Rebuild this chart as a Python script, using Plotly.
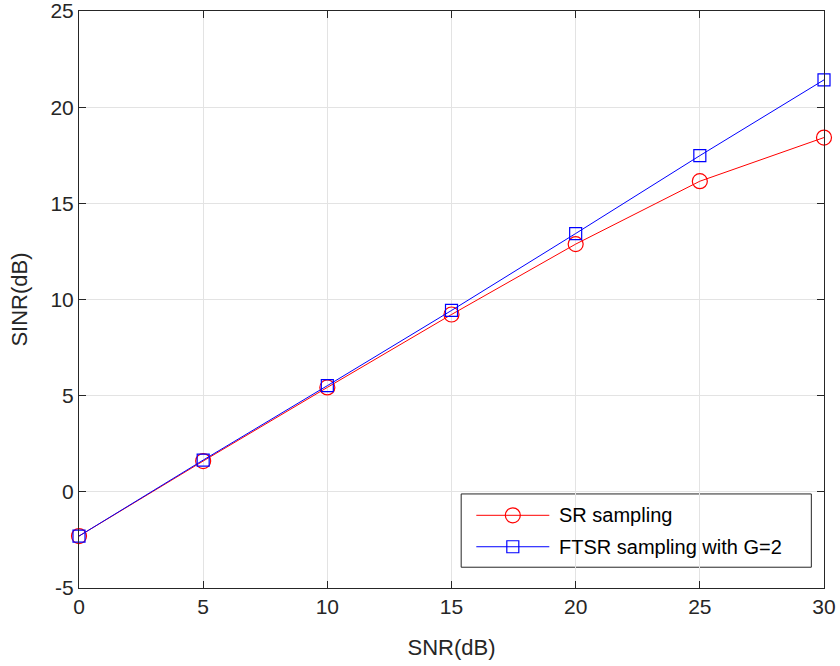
import plotly.graph_objects as go

snr_db = [0, 5, 10, 15, 20, 25, 30]
sr_sinr = [-2.3, 1.6, 5.43, 9.22, 12.88, 16.15, 18.42]
ftsr_sinr = [-2.3, 1.65, 5.52, 9.43, 13.43, 17.48, 21.42]

series_names = ["SR sampling", "FTSR sampling with G=2"]

x_ticks = [0, 5, 10, 15, 20, 25, 30]
x_tick_text = ["0", "5", "10", "15", "20", "25", "30"]
y_ticks = [-5, 0, 5, 10, 15, 20, 25]
y_tick_text = ["-5", "0", "5", "10", "15", "20", "25"]

FONT = "Liberation Sans, Arial, sans-serif"
RED = "#ff0000"
BLUE = "#0000ff"
CIRCLE = dict(symbol="circle-open", size=15, line=dict(width=1.2))
SQUARE = dict(symbol="square-open", size=12, line=dict(width=1.2))

fig = go.Figure()
fig.add_trace(go.Scatter(
    x=snr_db, y=sr_sinr, mode="lines+markers", name=series_names[0],
    line=dict(color=RED, width=1), marker=dict(color=RED, **CIRCLE),
    showlegend=False, cliponaxis=False,
))
fig.add_trace(go.Scatter(
    x=snr_db, y=ftsr_sinr, mode="lines+markers", name=series_names[1],
    line=dict(color=BLUE, width=1), marker=dict(color=BLUE, **SQUARE),
    showlegend=False, cliponaxis=False,
))

axis_common = dict(
    showgrid=True, gridcolor="#e3e3e3", gridwidth=1,
    showline=True, linecolor="#262626", linewidth=1, mirror="ticks",
    ticks="inside", ticklen=7, tickcolor="#262626",
    zeroline=False, automargin=False, ticklabeloverflow="allow",
    tickfont=dict(family=FONT, size=21, color="#262626"),
    title_font=dict(family=FONT, size=22, color="#262626"),
)

fig.update_xaxes(range=[0, 30], tickvals=x_ticks, ticktext=x_tick_text,
                 title_text="SNR(dB)", title_standoff=22, **axis_common)
fig.update_yaxes(range=[-5, 25], tickvals=y_ticks, ticktext=y_tick_text,
                 title_text="SINR(dB)", title_standoff=16, **axis_common)

# Boxed legend in the lower-right corner of the axes (axes-fraction coordinates)
box = dict(x0=0.513, x1=0.983, y0=0.036, y1=0.163)
rows_y = [0.126, 0.0715]
sample_x = [0.5333, 0.6313]
marker_x = 0.5823
text_x = 0.642

fig.update_layout(
    xaxis2=dict(overlaying="x", range=[0, 1], visible=False, anchor="y2"),
    yaxis2=dict(overlaying="y", range=[0, 1], visible=False, anchor="x2"),
)
fig.add_shape(type="rect", xref="paper", yref="paper",
              x0=box["x0"], x1=box["x1"], y0=box["y0"], y1=box["y1"],
              line=dict(color="#262626", width=1), fillcolor="white", layer="between")
for name, yy, color, mk in zip(series_names, rows_y, [RED, BLUE], [CIRCLE, SQUARE]):
    fig.add_trace(go.Scatter(
        x=sample_x, y=[yy, yy], xaxis="x2", yaxis="y2", mode="lines",
        line=dict(color=color, width=1), showlegend=False, hoverinfo="skip",
    ))
    fig.add_trace(go.Scatter(
        x=[marker_x], y=[yy], xaxis="x2", yaxis="y2", mode="markers",
        marker=dict(color=color, **mk), showlegend=False, hoverinfo="skip",
    ))
    fig.add_annotation(x=text_x, y=yy, xref="paper", yref="paper", text=name,
                       showarrow=False, xanchor="left", yanchor="middle",
                       font=dict(family=FONT, size=20, color="#000000"))

fig.update_layout(
    width=840, height=666,
    margin=dict(l=79, r=16, t=11, b=78),
    plot_bgcolor="white", paper_bgcolor="white",
    font=dict(family=FONT, size=20, color="#262626"),
    showlegend=False,
)

fig.write_html("out.html")
